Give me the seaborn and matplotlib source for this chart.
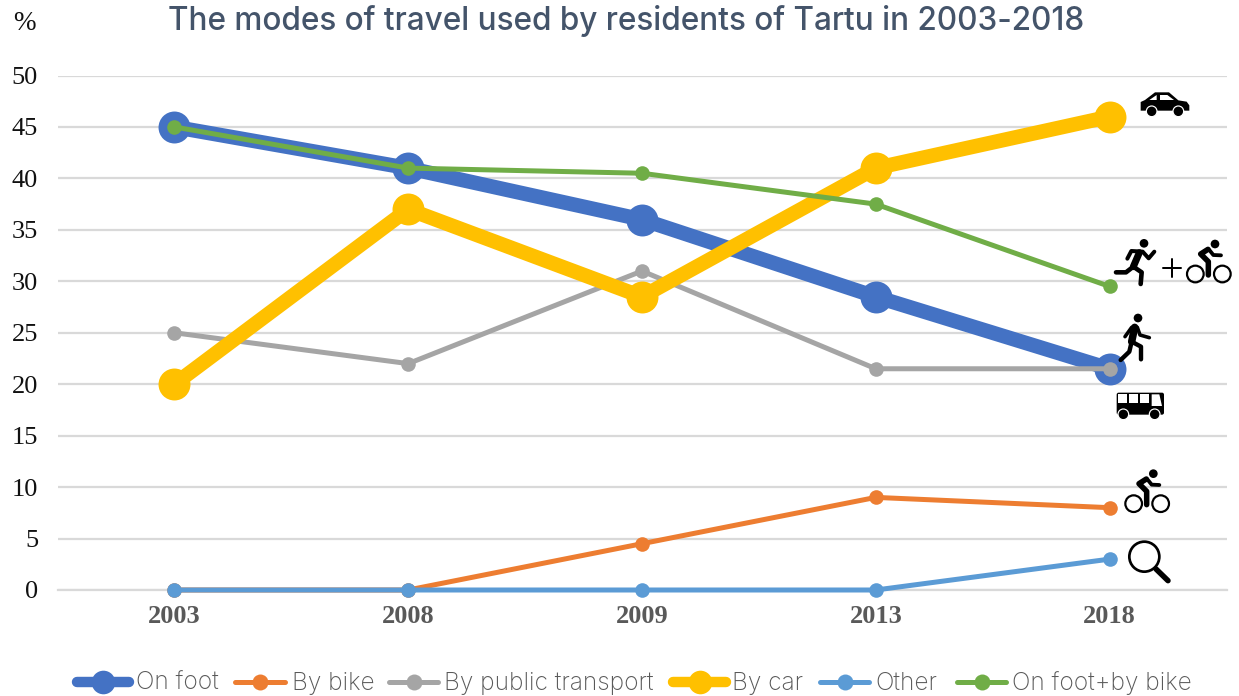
import matplotlib
matplotlib.use("Agg")
import matplotlib.pyplot as plt
from matplotlib.patches import Circle, Polygon, Rectangle, FancyBboxPatch
import seaborn as sns
import pandas as pd

years = ["2003", "2008", "2009", "2013", "2018"]
on_foot = [45, 41, 36, 28.5, 21.5]
by_bike = [0, 0, 4.5, 9, 8]
by_public = [25, 22, 31, 21.5, 21.5]
by_car = [20, 37, 28.5, 41, 46]
other = [0, 0, 0, 0, 3]
foot_bike = [45, 41, 40.5, 37.5, 29.5]
names = ["On foot", "By bike", "By public transport", "By car", "Other", "On foot+by bike"]
colors = ["#4472C4", "#ED7D31", "#A5A5A5", "#FFC000", "#5B9BD5", "#70AD47"]
title = "The modes of travel used by residents of Tartu in 2003-2018"
legend_x = [(74, 132, 135.5), (232, 288, 291.5), (386, 441, 444), (670, 729, 732), (817, 872, 875), (954, 1009, 1012)]

sns.set_theme(style="white")
W, H = 1239, 696
fig = plt.figure(figsize=(W / 100, H / 100), dpi=100)
ax = fig.add_axes([57.5 / W, 1 - 590 / H, (1226.5 - 57.5) / W, (590 - 75.5) / H])

series = [on_foot, by_bike, by_public, by_car, other, foot_bike]
for name, vals, col in zip(names, series, colors):
    thick = name in ("On foot", "By car")
    lw, ms = (10.5, 23) if thick else (3.6, 10.5)
    df = pd.DataFrame({"year": years, "share": vals})
    sns.lineplot(data=df, x="year", y="share", sort=False, color=col, lw=lw, marker="o",
                 markersize=ms, markeredgewidth=0, ax=ax, legend=False, zorder=3,
                 solid_capstyle="round", clip_on=False)

ax.set_xlim(-0.5, 4.5)
ax.set_ylim(0, 50)
ax.set_yticks(range(0, 51, 5))
ax.yaxis.grid(True, color="#D9D9D9", lw=1.6, zorder=0)
ax.set_axisbelow(True)
for s in ax.spines.values():
    s.set_visible(False)
ax.spines["bottom"].set_visible(True)
ax.spines["bottom"].set_color("#D9D9D9")
ax.spines["bottom"].set_linewidth(1.6)
ax.set_xlabel("")
ax.set_ylabel("")
ax.tick_params(axis="y", length=0, pad=14, labelsize=19, labelcolor="#111111")
ax.tick_params(axis="x", length=0, pad=11, labelsize=19, labelcolor="#595959")
for t in ax.get_yticklabels():
    t.set_fontfamily("Liberation Serif")
for t in ax.get_xticklabels():
    t.set_fontfamily("Liberation Serif")
    t.set_fontweight("bold")

fig.text(626.5 / W, 1 - 21 / H, title, ha="center", va="center", family="Inter", fontsize=22.7,
         color="#44546A", fontweight="medium")
fig.text(24.5 / W, 1 - 23 / H, "%", ha="center", va="center", family="Liberation Serif",
         fontsize=19.5, color="#111111")

# Pixel-space overlay for the legend and the pictographic icons
ov = fig.add_axes([0, 0, 1, 1], zorder=5)
ov.set_xlim(0, W)
ov.set_ylim(H, 0)
ov.axis("off")
ov.patch.set_alpha(0)

for name, col, (x0, x1, xt) in zip(names, colors, legend_x):
    thick = name in ("On foot", "By car")
    ov.plot([x0 + 3, x1 - 3], [682, 682], color=col, lw=(7.5 if thick else 3.6), solid_capstyle="round")
    ov.plot([(x0 + x1) / 2], [682], "o", color=col, ms=(17 if thick else 11.5), mew=0)
    ov.text(xt, 690, name, ha="left", va="baseline", family="Inter", fontsize=17.6, color="#595959",
            fontweight="light")

def pl(pts, ox, oy, w=5.0, color="black"):
    ov.plot([ox + p[0] / 3 for p in pts], [oy + p[1] / 3 for p in pts], color=color, lw=w * 0.72,
            solid_capstyle="round", solid_joinstyle="round")

def circ(x, y, r, ox, oy, fc="black", ec="none", w=0):
    ov.add_patch(Circle((ox + x / 3, oy + y / 3), r / 3, fc=fc, ec=ec, lw=w * 0.72))

def poly(pts, ox, oy, fc="black"):
    ov.add_patch(Polygon([(ox + p[0] / 3, oy + p[1] / 3) for p in pts], closed=True, fc=fc, ec="none"))

def cyclist(ox, oy):
    circ(375, 522, 13, ox, oy)
    circ(316, 612, 25, ox, oy, fc="none", ec="black", w=2.2)
    circ(397, 612, 25, ox, oy, fc="none", ec="black", w=2.2)
    pl([(354, 538), (332, 552), (355, 575), (355, 615)], ox, oy, w=5.5)
    pl([(358, 540), (370, 555), (393, 556)], ox, oy, w=3.8)

ox, oy = 1090, 70
# car
poly([(152, 122), (152, 96), (165, 90), (195, 67), (237, 67), (265, 91), (290, 95), (298, 106), (298, 122)], ox, oy)
poly([(178, 90), (200, 75), (200, 90)], ox, oy, fc="white")
poly([(210, 75), (232, 75), (252, 90), (210, 90)], ox, oy, fc="white")
for cx in (185, 265):
    circ(cx, 124, 16, ox, oy, fc="black", ec="white", w=1.2)
# runner
circ(162, 520, 13, ox, oy)
pl([(112, 566), (124, 543), (158, 545), (176, 565), (193, 545)], ox, oy, w=4.0)
pl([(148, 548), (130, 590)], ox, oy, w=7.0)
pl([(130, 590), (155, 607), (152, 642)], ox, oy, w=4.6)
pl([(130, 590), (108, 607), (78, 607)], ox, oy, w=4.6)
# plus
pl([(220, 593), (274, 593)], ox, oy, w=2.0)
pl([(247, 566), (247, 621)], ox, oy, w=2.0)
cyclist(ox, oy)
# walker
circ(144, 744, 13, ox, oy)
pl([(125, 772), (105, 800)], ox, oy, w=3.6)
pl([(142, 772), (150, 795), (178, 803)], ox, oy, w=3.6)
pl([(134, 772), (125, 815)], ox, oy, w=7.5)
pl([(125, 815), (153, 830), (153, 868)], ox, oy, w=4.4)
pl([(125, 815), (118, 845), (92, 870)], ox, oy, w=4.4)

ox, oy = 1090, 370
# bus
ov.add_patch(FancyBboxPatch((ox + 80 / 3, oy + 68 / 3), 142 / 3, 66 / 3, boxstyle="round,pad=0,rounding_size=2",
                            fc="black", ec="none"))
for x0, w0 in ((85, 27), (118, 27), (151, 27)):
    ov.add_patch(Rectangle((ox + x0 / 3, oy + 73 / 3), w0 / 3, 26 / 3, fc="white", ec="none"))
poly([(185, 73), (208, 73), (216, 108), (185, 108)], ox, oy, fc="white")
for cx in (100, 194):
    circ(cx, 133, 16, ox, oy, fc="black", ec="white", w=1.2)
# cyclist (same glyph as above, moved to its reference position)
cyclist(ox - 185 / 3, oy - 211 / 3)
# magnifier
circ(163, 560, 45, ox, oy, fc="none", ec="black", w=2.7)
pl([(198, 597), (234, 632)], ox, oy, w=5.5)

fig.savefig("out.png", dpi=100)
